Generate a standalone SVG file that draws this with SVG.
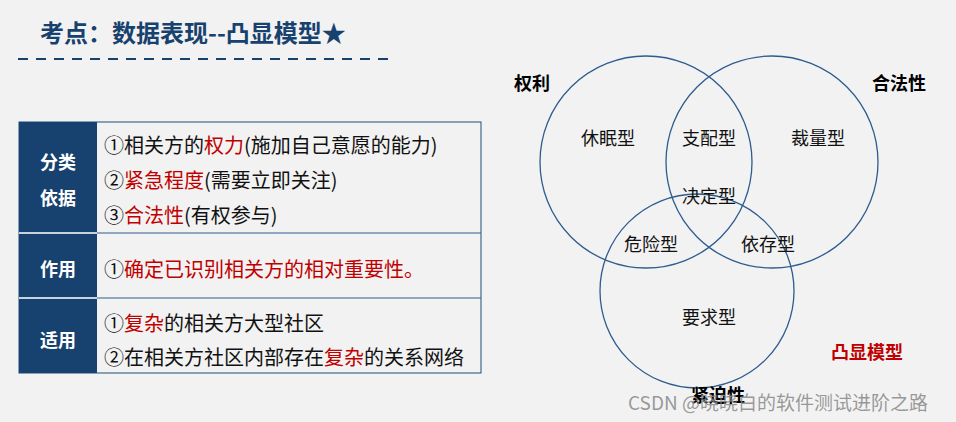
<svg xmlns="http://www.w3.org/2000/svg" width="956" height="422" viewBox="0 0 956 422">
<style>
text{font-family:"Noto Sans CJK SC","Noto Sans",sans-serif}
.t{font-size:20px;fill:#111}
.r{fill:#c00000}
.h{font-size:18px;font-weight:bold;fill:#fff}
.c{fill:none;stroke:#2e5c8f;stroke-width:1.3}
.l{font-size:18px;fill:#111}
.b{font-size:18px;font-weight:bold;fill:#000}
</style>
<rect width="956" height="422" fill="#f2f2f2"/>
<text x="40" y="42" font-size="24" font-weight="bold" fill="#17416e">考点：数据表现--凸显模型★</text>
<line x1="18" y1="59" x2="388" y2="59" stroke="#17416e" stroke-width="2" stroke-dasharray="10,8"/>
<g id="table">
<rect x="19" y="122" width="462" height="251" fill="#f2f2f2" stroke="#1f4e79" stroke-width="1"/>
<rect x="19" y="122" width="78" height="251" fill="#17416e"/>
<line x1="19" y1="233" x2="481" y2="233" stroke="#2e5c8f"/>
<line x1="19" y1="298" x2="481" y2="298" stroke="#2e5c8f"/>
<line x1="19" y1="233" x2="97" y2="233" stroke="#fff" stroke-width="1.5"/>
<line x1="19" y1="298" x2="97" y2="298" stroke="#fff" stroke-width="1.5"/>
<text class="h" x="58" y="169" text-anchor="middle">分类</text>
<text class="h" x="58" y="205" text-anchor="middle">依据</text>
<text class="h" x="58" y="276" text-anchor="middle">作用</text>
<text class="h" x="58" y="347" text-anchor="middle">适用</text>
<text class="t" x="104" y="153">①相关方的<tspan class="r">权力</tspan>(施加自己意愿的能力)</text>
<text class="t" x="104" y="188">②<tspan class="r">紧急程度</tspan>(需要立即关注)</text>
<text class="t" x="104" y="223">③<tspan class="r">合法性</tspan>(有权参与)</text>
<text class="t" x="104" y="277">①<tspan class="r">确定已识别相关方的相对重要性。</tspan></text>
<text class="t" x="104" y="331">①<tspan class="r">复杂</tspan>的相关方大型社区</text>
<text class="t" x="104" y="365">②在相关方社区内部存在<tspan class="r">复杂</tspan>的关系网络</text>
</g>
<g id="venn">
<circle class="c" cx="646" cy="162" r="106"/>
<circle class="c" cx="772" cy="162" r="106"/>
<circle class="c" cx="697" cy="291" r="97"/>
<text class="l" x="608" y="145" text-anchor="middle">休眠型</text>
<text class="l" x="709" y="145" text-anchor="middle">支配型</text>
<text class="l" x="818" y="145" text-anchor="middle">裁量型</text>
<text class="l" x="709" y="203" text-anchor="middle">决定型</text>
<text class="l" x="651" y="251" text-anchor="middle">危险型</text>
<text class="l" x="768" y="251" text-anchor="middle">依存型</text>
<text class="l" x="709" y="324" text-anchor="middle">要求型</text>
<text class="b" x="532" y="90" text-anchor="middle">权利</text>
<text class="b" x="899" y="90" text-anchor="middle">合法性</text>
<text class="b" x="718" y="402" text-anchor="middle">紧迫性</text>
<text x="867" y="359" text-anchor="middle" font-size="18" font-weight="bold" fill="#c00000">凸显模型</text>
</g>
<text x="628" y="410" font-size="19" fill="#888" fill-opacity="0.85" font-family="Liberation Sans,Noto Sans CJK SC,sans-serif">CSDN @晓晓白的软件测试进阶之路</text>
</svg>
